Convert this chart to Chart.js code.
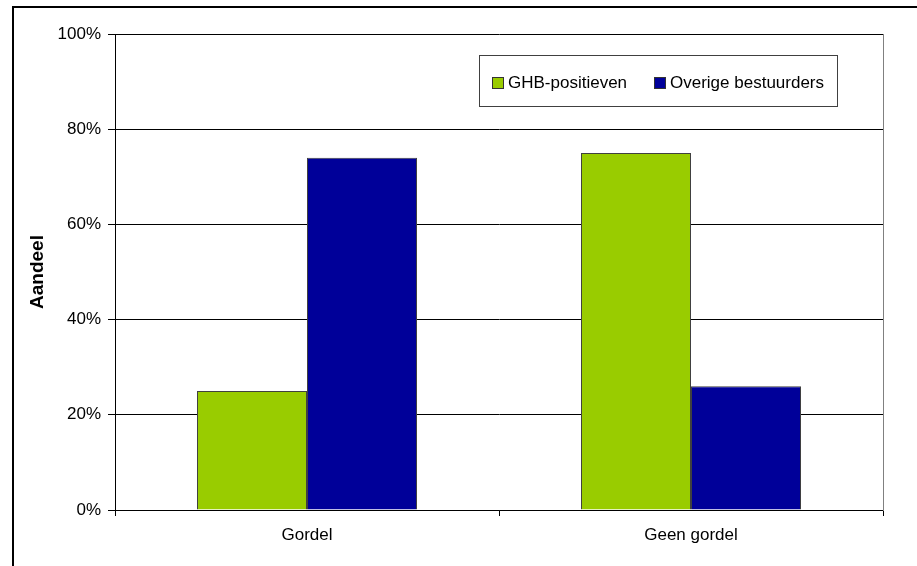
<!DOCTYPE html>
<html>
<head>
<meta charset="utf-8">
<script src="https://cdn.jsdelivr.net/npm/chart.js@4/dist/chart.umd.min.js"></script>
<style>
  html, body { margin: 0; padding: 0; background: #fff; }
  #wrap { width: 917px; height: 566px; position: relative; }
</style>
</head>
<body>
<div id="wrap"><canvas id="c" width="917" height="566"></canvas></div>
<script>
const categories = ["Gordel", "Geen gordel"];
const seriesNames = ["GHB-positieven", "Overige bestuurders"];
const ghbValues = [25, 75];
const overigeValues = [74, 26];
const yTicks = [0, 20, 40, 60, 80, 100];

const FONT = "'Liberation Sans', Arial, sans-serif";

const framePlugin = {
  id: 'frame',
  afterDraw(chart) {
    const ctx = chart.ctx;
    const a = chart.chartArea;
    ctx.save();
    // outer frame
    ctx.strokeStyle = '#000';
    ctx.lineWidth = 2;
    ctx.strokeRect(13, 7, 1000, 1000);
    // right plot border
    ctx.lineWidth = 1;
    ctx.strokeStyle = '#808080';
    ctx.beginPath();
    ctx.moveTo(Math.round(a.right) + 0.5, Math.round(a.top));
    ctx.lineTo(Math.round(a.right) + 0.5, Math.round(a.bottom) + 1);
    ctx.stroke();
    // legend box
    const lx = 479.5, ly = 55.5, lw = 358, lh = 51;
    ctx.fillStyle = '#fff';
    ctx.fillRect(lx, ly, lw, lh);
    ctx.strokeStyle = '#404040';
    ctx.strokeRect(lx, ly, lw, lh);
    const items = chart.data.datasets;
    const xs = [492, 654];
    ctx.font = '17px ' + FONT;
    ctx.textBaseline = 'middle';
    items.forEach((ds, i) => {
      ctx.fillStyle = ds.backgroundColor;
      ctx.fillRect(xs[i], 77, 11, 11);
      ctx.strokeStyle = '#333';
      ctx.strokeRect(xs[i] + 0.5, 77.5, 11, 11);
      ctx.fillStyle = '#000';
      ctx.fillText(ds.label, xs[i] + 16, 83);
    });
    ctx.restore();
  }
};

new Chart(document.getElementById('c'), {
  type: 'bar',
  data: {
    labels: categories,
    datasets: [
      { label: seriesNames[0], data: ghbValues, backgroundColor: '#99CC00', borderColor: '#404040', borderWidth: 1,
        categoryPercentage: 0.573, barPercentage: 1 },
      { label: seriesNames[1], data: overigeValues, backgroundColor: '#000099', borderColor: '#404040', borderWidth: 1,
        categoryPercentage: 0.573, barPercentage: 1 }
    ]
  },
  options: {
    responsive: false,
    animation: false,
    devicePixelRatio: 1,
    layout: { padding: { left: 0, right: 34, top: 34, bottom: 16 } },
    plugins: { legend: { display: false }, tooltip: { enabled: false } },
    scales: {
      x: {
        grid: { drawOnChartArea: false, drawTicks: true, tickLength: 6, color: '#000', offset: true },
        border: { color: '#000', width: 1 },
        ticks: { color: '#000', font: { family: FONT, size: 17 }, padding: 9 },
        afterFit(s) { s.height = 40; }
      },
      y: {
        min: 0, max: 100,
        afterBuildTicks(s) { s.ticks = yTicks.map(v => ({ value: v })); },
        grid: { color: '#000', tickLength: 7, drawTicks: true },
        border: { color: '#000', width: 1 },
        ticks: { color: '#000', font: { family: FONT, size: 17 }, padding: 7, callback: v => v + '%' },
        title: { display: true, text: 'Aandeel', color: '#000', font: { family: FONT, size: 19, weight: 'bold' }, padding: { top: 26, bottom: 0 } },
        afterFit(s) { s.width = 115; }
      }
    }
  },
  plugins: [framePlugin]
});
</script>
</body>
</html>
